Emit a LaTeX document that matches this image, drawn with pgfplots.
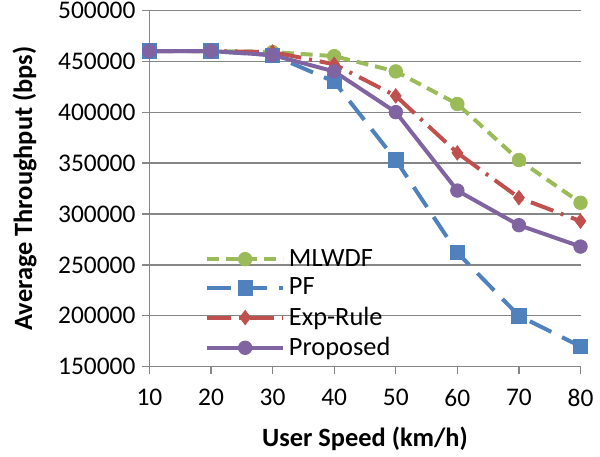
\documentclass[border=0pt]{standalone}
\usepackage{pgfplots}
\pgfplotsset{compat=1.18}
\usepackage{fontspec}
\setmainfont{Carlito}
\definecolor{cgreen}{HTML}{9BBB59}
\definecolor{cblue}{HTML}{4F81BD}
\definecolor{cred}{HTML}{C0504D}
\definecolor{cpurple}{HTML}{8064A2}
\definecolor{cgrid}{HTML}{868686}
\begin{document}
\begin{tikzpicture}
\begin{axis}[
  scale only axis,
  width=216.5bp, height=179bp,
  xmin=10, xmax=80, ymin=150000, ymax=500000,
  xtick={10,20,...,80},
  ytick={150000,200000,...,500000},
  scaled y ticks=false,
  /pgf/number format/assume math mode=true,
  yticklabel style={/pgf/number format/fixed,/pgf/number format/1000 sep={}},
  tick label style={font=\fontsize{12.8}{14}\selectfont, text=black, inner ysep=1bp},
  xticklabel style={yshift=-6.5bp},
  yticklabel style={xshift=0bp},
  ymajorgrids,
  grid style={cgrid, line width=0.6pt},
  axis line style={cgrid, line width=0.6pt},
  axis x line*=bottom, axis y line*=left,
  tick style={cgrid, line width=0.6pt},
  tick align=outside,
  major tick length=3.5bp,
  xtick pos=bottom, ytick pos=left,
  xlabel={\textbf{User Speed (km/h)}},
  ylabel={\textbf{Average Throughput (bps)}},
  label style={font=\fontsize{13.3}{15}\selectfont},
  xlabel style={yshift=-5.5bp},
  ylabel style={yshift=4bp},
  legend style={at={(rel axis cs:0.115,0.0)}, anchor=south west, draw=none, fill=none,
    font=\fontsize{13.3}{15}\selectfont, row sep=0.5bp},
  legend cell align=left,
  legend image code/.code={\draw[mark repeat=2,mark phase=2] plot coordinates {(0bp,0bp) (19bp,0bp) (38bp,0bp)};},
  every axis plot/.append style={line width=2bp},
  clip=false,
]
\addplot[cgreen, dash pattern=on 6bp off 3.5bp, mark=*, mark size=3.4bp, mark options={solid, line width=0.4bp}]
  coordinates {(10,460000) (20,460000) (30,459000) (40,455000) (50,440000) (60,408000) (70,353000) (80,311000)};
\addlegendentry{MLWDF}
\addplot[cblue, dash pattern=on 12bp off 6bp, mark=square*, mark size=3.6bp, mark options={solid, line width=0.4bp}]
  coordinates {(10,460000) (20,460000) (30,456000) (40,430000) (50,353000) (60,262000) (70,200000) (80,170000)};
\addlegendentry{PF}
\addplot[cred, dash pattern=on 12bp off 4bp on 1.5bp off 4bp, mark=diamond*, mark size=3.6bp, mark options={solid, line width=0.4bp}]
  coordinates {(10,460000) (20,460000) (30,459000) (40,447000) (50,416000) (60,360000) (70,316000) (80,293000)};
\addlegendentry{Exp-Rule}
\addplot[cpurple, solid, mark=*, mark size=3.4bp, mark options={line width=0.4bp}]
  coordinates {(10,460000) (20,460000) (30,456000) (40,440000) (50,400000) (60,323000) (70,289000) (80,268000)};
\addlegendentry{Proposed}
\end{axis}
\path ([xshift=-3bp]current bounding box.west);
\end{tikzpicture}
\end{document}
